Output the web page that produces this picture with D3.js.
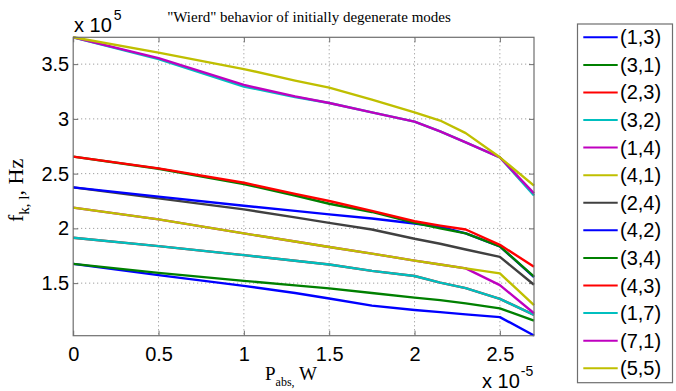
<!DOCTYPE html>
<html><head><meta charset="utf-8">
<script src="https://cdn.jsdelivr.net/npm/d3@7"></script>
<style>body{margin:0;background:#fff}svg{display:block}</style>
</head><body><svg id="c" width="676" height="391"></svg>
<script>
const xValues = [0, 0.5, 1, 1.3, 1.5, 1.75, 2, 2.15, 2.3, 2.5, 2.7];
const modes = ["(1,3)","(3,1)","(2,3)","(3,2)","(1,4)","(4,1)","(2,4)","(4,2)","(3,4)","(4,3)","(1,7)","(7,1)","(5,5)"];
const colors = ["#0000ff","#008000","#ff0000","#00bfbf","#bf00bf","#bfbf00","#404040","#0000ff","#008000","#ff0000","#00bfbf","#bf00bf","#bfbf00"];
const s13 = [1.676,1.573,1.475,1.41,1.36,1.295,1.255,1.235,1.215,1.19,1.022];
const s31 = [1.676,1.594,1.521,1.48,1.452,1.41,1.368,1.345,1.315,1.269,1.158];
const s23 = [1.915,1.838,1.756,1.705,1.67,1.612,1.565,1.505,1.454,1.357,1.21];
const s32 = [1.915,1.838,1.756,1.705,1.67,1.612,1.565,1.505,1.454,1.357,1.21];
const s14 = [2.19,2.082,1.954,1.88,1.83,1.77,1.705,1.67,1.635,1.482,1.225];
const s41 = [2.19,2.082,1.954,1.88,1.83,1.77,1.705,1.67,1.635,1.589,1.30];
const s24 = [2.375,2.274,2.174,2.1,2.05,1.99,1.905,1.86,1.807,1.74,1.485];
const s42 = [2.375,2.29,2.207,2.16,2.128,2.09,2.045,2.015,1.955,1.835,1.555];
const s34 = [2.655,2.545,2.405,2.3,2.225,2.15,2.05,2.0,1.955,1.835,1.56];
const s43 = [2.655,2.548,2.417,2.315,2.25,2.16,2.065,2.025,1.99,1.85,1.65];
const s17 = [3.745,3.545,3.295,3.2,3.145,3.06,2.975,2.885,2.785,2.649,2.30];
const s71 = [3.745,3.555,3.31,3.205,3.145,3.06,2.975,2.885,2.785,2.649,2.32];
const s55 = [3.745,3.605,3.455,3.35,3.285,3.175,3.06,2.985,2.87,2.649,2.39];
const seriesValues = [s13,s31,s23,s32,s14,s41,s24,s42,s34,s43,s17,s71,s55];
const xTicks = [0,0.5,1,1.5,2,2.5];
const xTickLabels = ["0","0.5","1","1.5","2","2.5"];
const yTicks = [1.5,2,2.5,3,3.5];
const yTickLabels = ["1.5","2","2.5","3","3.5"];

const svg = d3.select("#c");
const L=73.2, R=534, T=37.3, B=335.7;
const x = d3.scaleLinear().domain([0,2.7]).range([L,R]);
const y = d3.scaleLinear().domain([1.02,3.745]).range([B,T]);
const sans = "'Liberation Sans', Arial, sans-serif";
const serif = "'Liberation Serif', 'Times New Roman', serif";
const axisCol = "#6e6e6e";

// grid
const g = svg.append("g");
g.selectAll(".gx").data(xTicks.slice(1)).enter().append("line")
  .attr("x1",d=>x(d)).attr("x2",d=>x(d)).attr("y1",T).attr("y2",B)
  .attr("stroke","#8a8a8a").attr("stroke-width",1).attr("stroke-dasharray","1,3");
g.selectAll(".gy").data(yTicks).enter().append("line")
  .attr("x1",L).attr("x2",R).attr("y1",d=>y(d)).attr("y2",d=>y(d))
  .attr("stroke","#8a8a8a").attr("stroke-width",1).attr("stroke-dasharray","1,3");

// axes
function styleAxis(sel){
  sel.select(".domain").remove();
  sel.selectAll(".tick line").attr("stroke",axisCol);
  sel.selectAll(".tick text").attr("fill","#000").style("font-family",sans).style("font-size","20px");
}
const ax = svg.append("g").attr("transform",`translate(0,${B})`)
  .call(d3.axisBottom(x).tickValues(xTicks).tickFormat((d,i)=>xTickLabels[i]).tickSize(-5).tickPadding(11));
styleAxis(ax);
const ay = svg.append("g").attr("transform",`translate(${L},0)`)
  .call(d3.axisLeft(y).tickValues(yTicks).tickFormat((d,i)=>yTickLabels[i]).tickSize(-5).tickPadding(4));
styleAxis(ay);
const at = svg.append("g").attr("transform",`translate(0,${T})`)
  .call(d3.axisTop(x).tickValues(xTicks).tickFormat("").tickSize(-5));
styleAxis(at);
const ar = svg.append("g").attr("transform",`translate(${R},0)`)
  .call(d3.axisRight(y).tickValues(yTicks).tickFormat("").tickSize(-5));
styleAxis(ar);

// lines
const line = d3.line().x((d,i)=>x(xValues[i])).y(d=>y(d));
seriesValues.forEach((vals,k)=>{
  svg.append("path").datum(vals).attr("d",line)
    .attr("fill","none").attr("stroke",colors[k]).attr("stroke-width",2.4)
    .attr("stroke-linejoin","round");
});

svg.append("rect").attr("x",L).attr("y",T).attr("width",R-L).attr("height",B-T)
  .attr("fill","none").attr("stroke",axisCol).attr("stroke-width",1.2);

// exponent labels
const e1 = svg.append("text").attr("x",74).attr("y",32).style("font-family",sans).style("font-size","20px");
e1.append("tspan").text("x 10");
e1.append("tspan").attr("dy",-12).style("font-size","14px").attr("dx",2).text("5");
const e2 = svg.append("text").attr("x",482).attr("y",388).style("font-family",sans).style("font-size","20px");
e2.append("tspan").text("x 10");
e2.append("tspan").attr("dy",-12).attr("dx",1).style("font-size","14px").text("-5");

// title
svg.append("text").attr("x",309).attr("y",22).attr("text-anchor","middle")
  .style("font-family",serif).style("font-size","15px").text("\"Wierd\" behavior of initially degenerate modes");

// x label
const xl = svg.append("text").attr("x",265).attr("y",380).style("font-family",serif).style("font-size","19px");
xl.append("tspan").text("P");
xl.append("tspan").attr("dy",6).style("font-size","12px").text("abs,");
xl.append("tspan").attr("dy",-6).text(" W");

// y label
const yl = svg.append("text").attr("transform","translate(23,222) rotate(-90)").style("font-family",serif).style("font-size","22px");
yl.append("tspan").text("f");
yl.append("tspan").attr("dy",6).style("font-size","15px").text("k, l");
yl.append("tspan").attr("dy",-6).text(", Hz");

// legend
const lg = svg.append("g");
lg.append("rect").attr("x",577.5).attr("y",24).attr("width",95).attr("height",358.7)
  .attr("fill","#fff").attr("stroke",axisCol).attr("stroke-width",1.2);
modes.forEach((m,i)=>{
  const yy = 37.3 + i*27.58;
  lg.append("line").attr("x1",583.3).attr("x2",617.7).attr("y1",yy).attr("y2",yy)
    .attr("stroke",colors[i]).attr("stroke-width",2);
  lg.append("text").attr("x",620).attr("y",yy).attr("dy","0.35em")
    .style("font-family",sans).style("font-size","20px").text(m);
});
</script></body></html>
